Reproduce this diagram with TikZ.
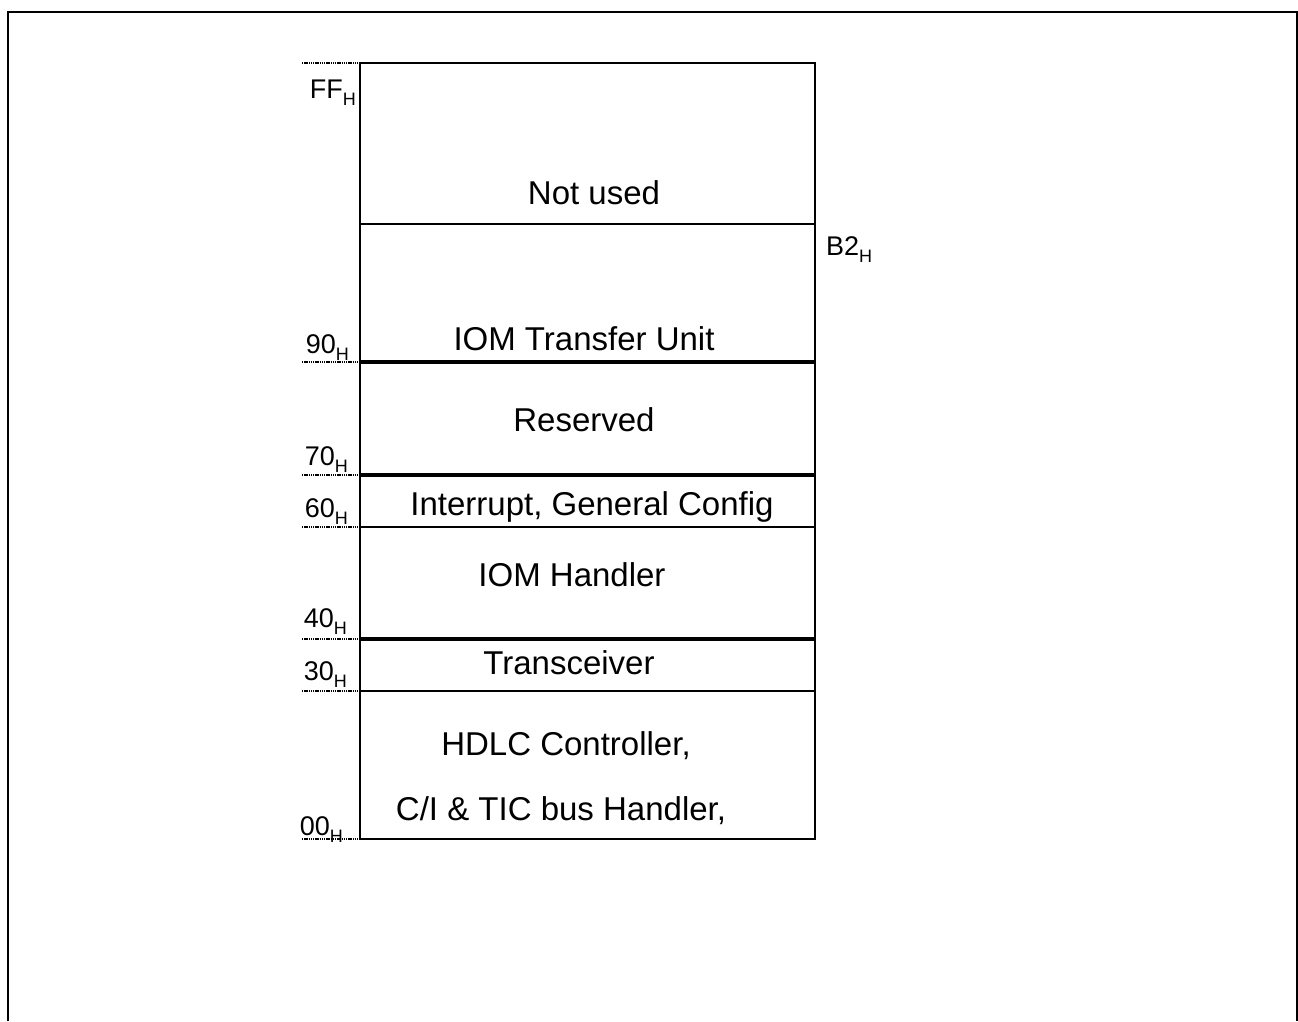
\documentclass[tikz,border=0pt]{standalone}
\usepackage{fontspec}
\setmainfont{Liberation Sans}
\usepackage{tikz}
\usetikzlibrary{positioning}
\newcommand{\adrH}[1]{#1\raisebox{-7pt}{\fontsize{18}{18}\selectfont H}}
\tikzset{
  frm/.style={draw=black,line width=2.4pt},
  sep/.style={draw=black,line width=2.4pt},
  sepb/.style={draw=black,line width=3.2pt},
  tick/.style={draw=black,line width=2.4pt,dash pattern=on 1.4pt off 0.8pt},
  reg/.style={font=\fontsize{33}{36}\selectfont,anchor=base,inner sep=0pt},
  adr/.style={font=\fontsize{27}{29}\selectfont,anchor=base east,inner sep=0pt},
}

\begin{document}
\begin{tikzpicture}[x=1pt,y=-1pt]
\useasboundingbox (0,0) rectangle (1298,1021);
% outer frame, open at the bottom
\draw[frm] (8,1021) -- (8,12) -- (1297,12) -- (1297,1021);
% the register map
\draw[frm] (360,63) rectangle (815,839);
\draw[sep] (360,224) -- (815,224) (360,527) -- (815,527) (360,691) -- (815,691);
\draw[sepb] (360,362) -- (815,362) (360,475) -- (815,475) (360,639) -- (815,639);
\foreach \y in {63,362,475,527,639,691,839}
  \draw[tick] (302,\y) -- (359,\y);
% regions
\node[reg] (nu) at (594,204) {Not used};
\node[reg] (iomtu) at (584,350) {IOM Transfer Unit};
\node[reg] (rsv) at (584,431) {Reserved};
\node[reg] (intcfg) at (592,515) {Interrupt, General Config};
\node[reg] (iomh) at (572,586) {IOM Handler};
\node[reg] (trx) at (569,674) {Transceiver};
\node[reg] (hdlc) at (566,755) {HDLC Controller,};
\node[reg] (citic) at (561,820) {C/I \& TIC bus Handler,};
% addresses
\node[adr] (aFF) at (356,98) {\adrH{FF}};
\node[adr] (a90) at (349,353) {\adrH{90}};
\node[adr] (a70) at (348,465) {\adrH{70}};
\node[adr] (a60) at (348,517) {\adrH{60}};
\node[adr] (a40) at (347,627) {\adrH{40}};
\node[adr] (a30) at (347,680) {\adrH{30}};
\node[adr] (a00) at (343,835) {\adrH{00}};
\node[adr,anchor=base west] (aB2) at (826,255) {\adrH{B2}};
\end{tikzpicture}
\end{document}
